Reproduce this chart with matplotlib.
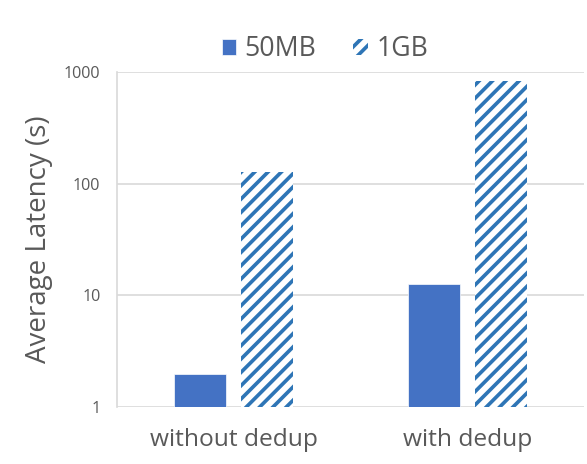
import matplotlib
matplotlib.use("Agg")
import matplotlib.pyplot as plt
import numpy as np

categories = ["without dedup", "with dedup"]
series_names = ["50MB", "1GB"]
lat_50mb = [1.96, 12.7]
lat_1gb = [127, 834]

plt.rcParams['font.family'] = ['Open Sans', 'DejaVu Sans']
plt.rcParams['hatch.linewidth'] = 3.3
plt.rcParams['hatch.color'] = '#2e75b6'

grey = '#595959'
fig = plt.figure(figsize=(587 / 80, 464 / 80), dpi=80)
ax = fig.add_axes([117 / 587, 1 - 407 / 464, 467 / 587, 335 / 464])

x = np.arange(len(categories))
w = 0.222
off = (w + 0.064) / 2
ax.bar(x - off, lat_50mb, w, color='#4472c4', edgecolor='white', linewidth=0.6,
       label=series_names[0], zorder=3)
ax.bar(x + off, lat_1gb, w, color='white', edgecolor='#2e75b6', linewidth=0,
       hatch='//', label=series_names[1], zorder=3)

ax.set_yscale('log')
ax.set_ylim(1, 1000)
ax.set_xlim(-0.5, 1.5)
ax.set_yticks([1, 10, 100, 1000])
ax.set_yticklabels(['1', '10', '100', '1000'])
ax.minorticks_off()
ax.set_xticks(x)
ax.set_xticklabels(categories)
ax.tick_params(axis='y', length=0, labelsize=14.5, labelcolor=grey, pad=15)
ax.tick_params(axis='x', length=0, labelsize=22, labelcolor=grey, pad=19)
ax.grid(axis='y', color='#d9d9d9', linewidth=1.5, zorder=0)
for s in ['top', 'right', 'bottom']:
    ax.spines[s].set_visible(False)
ax.spines['left'].set_color('#d9d9d9')
ax.spines['left'].set_linewidth(1.5)
ax.set_ylabel('Average Latency (s)', fontsize=25, color=grey, labelpad=10)

ax.legend(loc='lower center', bbox_to_anchor=(0.445, 0.995), ncol=2, frameon=False,
          fontsize=24, labelcolor=grey, handlelength=0.55, handleheight=0.55,
          handletextpad=0.3, columnspacing=1.4, borderaxespad=0.0)

fig.savefig('out.png', dpi=80)
